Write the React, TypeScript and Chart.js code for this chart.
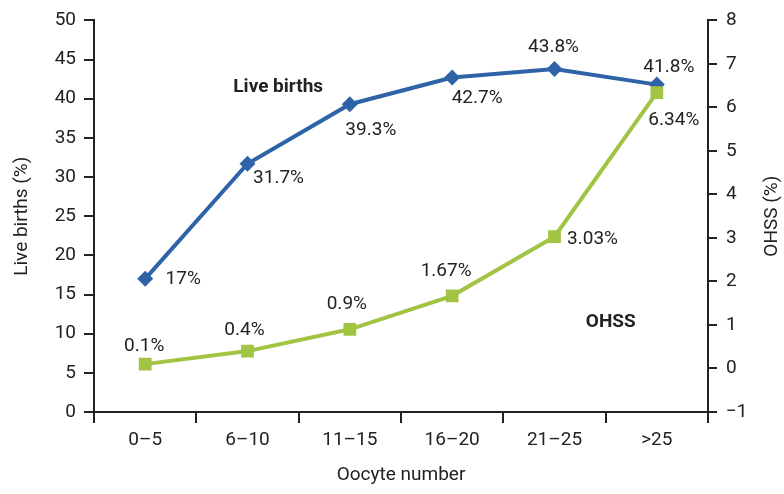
import React, { useEffect, useRef } from "react";
import { Chart, registerables } from "chart.js";

Chart.register(...registerables);

const categories = ["0\u20135", "6\u201310", "11\u201315", "16\u201320", "21\u201325", ">25"];
const liveBirths = [17, 31.7, 39.3, 42.7, 43.8, 41.8];
const ohss = [0.1, 0.4, 0.9, 1.67, 3.03, 6.34];

const FONT = "'Liberation Sans Narrow', 'Arial Narrow', Roboto, sans-serif";
const BLUE = "#2e63a8";
const GREEN = "#a2c443";
const TEXT = "#222222";

// pixel offsets of value labels from their points (style only)
const blueOffsets: [number, number][] = [
  [38, 0], [31, 15], [21, 26], [25, 21], [-1, -22], [12, -17],
];
const greenOffsets: [number, number][] = [
  [-1, -18], [-3, -21], [-3, -25], [-6, -25], [38, 3], [17, 28],
];

const labelPlugin = {
  id: "valueLabels",
  afterDatasetsDraw(chart: any) {
    const ctx = chart.ctx;
    ctx.save();
    ctx.fillStyle = TEXT;
    ctx.textAlign = "center";
    ctx.textBaseline = "middle";
    ctx.font = `19px ${FONT}`;
    const sets: [number, number[], [number, number][]][] = [
      [0, liveBirths, blueOffsets],
      [1, ohss, greenOffsets],
    ];
    for (const [idx, vals, offs] of sets) {
      const meta = chart.getDatasetMeta(idx);
      meta.data.forEach((pt: any, i: number) => {
        ctx.fillText(String(vals[i]) + "%", pt.x + offs[i][0], pt.y + offs[i][1]);
      });
    }
    // right axis title, reading bottom to top
    const ca = chart.chartArea;
    ctx.save();
    ctx.translate(chart.width - 12, (ca.top + ca.bottom) / 2);
    ctx.rotate(-Math.PI / 2);
    ctx.fillText("OHSS (%)", 0, 0);
    ctx.restore();
    // series annotations
    ctx.font = `bold 19px ${FONT}`;
    const x = chart.scales.x;
    const y = chart.scales.y;
    const y1 = chart.scales.y1;
    ctx.fillText("Live births", x.getPixelForValue(1.3), y.getPixelForValue(41.5));
    ctx.fillText("OHSS", x.getPixelForValue(4.55), y1.getPixelForValue(1.07));
    ctx.restore();
  },
};

export default function App() {
  const ref = useRef<HTMLCanvasElement>(null);
  useEffect(() => {
    document.body.style.margin = "0";
    const chart = new Chart(ref.current!, {
      type: "line",
      data: {
        labels: categories,
        datasets: [
          {
            label: "Live births",
            data: liveBirths,
            yAxisID: "y",
            borderColor: BLUE,
            backgroundColor: BLUE,
            borderWidth: 4,
            pointStyle: "rectRot",
            pointRadius: 8,
            pointBorderWidth: 0,
            order: 1,
          },
          {
            label: "OHSS",
            data: ohss,
            yAxisID: "y1",
            borderColor: GREEN,
            backgroundColor: GREEN,
            borderWidth: 4,
            pointStyle: "rect",
            pointRadius: 9,
            pointBorderWidth: 0,
            order: 0,
          },
        ],
      },
      options: {
        animation: false,
        responsive: false,
        layout: { padding: { top: 17, left: 0, right: 0, bottom: 0 } },
        plugins: { legend: { display: false }, tooltip: { enabled: false } },
        scales: {
          x: {
            offset: true,
            grid: { offset: true, drawOnChartArea: false, drawTicks: true, tickLength: 11, color: TEXT, lineWidth: 2 },
            border: { color: TEXT, width: 2 },
            ticks: { color: TEXT, font: { family: FONT, size: 19 }, padding: 6 },
            title: { display: true, text: "Oocyte number", color: TEXT, font: { family: FONT, size: 19 }, padding: { top: 0, bottom: 7 } },
            afterFit: (s: any) => { s.height = 82; },
          },
          y: {
            position: "left",
            min: 0,
            max: 50,
            ticks: { stepSize: 5, color: TEXT, font: { family: FONT, size: 19 }, padding: 8 },
            grid: { drawOnChartArea: false, drawTicks: true, tickLength: 10, color: TEXT, lineWidth: 2 },
            border: { color: TEXT, width: 2 },
            title: { display: true, text: "Live births (%)", color: TEXT, font: { family: FONT, size: 19 }, padding: { top: 11, bottom: 0 } },
            afterFit: (s: any) => { s.width = 94; },
          },
          y1: {
            position: "right",
            min: -1,
            max: 8,
            ticks: {
              stepSize: 1,
              color: TEXT,
              font: { family: FONT, size: 19 },
              padding: 9,
              callback: (v: any) => String(v).replace("-", "\u2212"),
            },
            grid: { drawOnChartArea: false, drawTicks: true, tickLength: 9, color: TEXT, lineWidth: 2 },
            border: { color: TEXT, width: 2 },
            title: { display: false },
            afterFit: (s: any) => { s.width = 76; },
          },
        },
      },
      plugins: [labelPlugin],
    } as any);
    return () => chart.destroy();
  }, []);
  return (
    <div style={{ position: "absolute", left: 0, top: 0, width: 784, height: 494, background: "#fff" }}>
      <canvas ref={ref} width={784} height={494} />
    </div>
  );
}
